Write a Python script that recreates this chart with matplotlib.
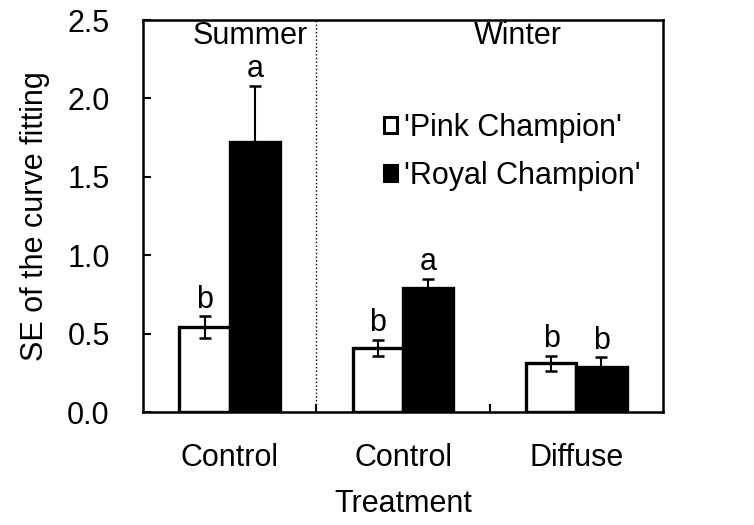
import matplotlib.pyplot as plt
import numpy as np
from matplotlib.patches import Patch

plt.rcParams['font.family'] = ['Liberation Sans', 'DejaVu Sans']

# data
GROUPS = ['Control', 'Control', 'Diffuse']
PINK = [0.54, 0.41, 0.31]
PINK_ERR = [0.07, 0.05, 0.05]
ROYAL = [1.72, 0.79, 0.29]
ROYAL_ERR = [0.36, 0.06, 0.06]
PINK_LETTERS = ['b', 'b', 'b']
ROYAL_LETTERS = ['a', 'a', 'b']

FS = 22

fig = plt.figure(figsize=(7.54, 5.25), dpi=100)
ax = fig.add_axes([143 / 754, 1 - 412 / 525, 520 / 754, 392 / 525])

x = np.arange(len(GROUPS))
w = 0.29

ax.bar(x - w / 2, PINK, w, color='white', edgecolor='black', linewidth=2.4, zorder=2)
ax.bar(x + w / 2, ROYAL, w, color='black', edgecolor='black', linewidth=2.4, zorder=2)
ax.errorbar(x - w / 2, PINK, yerr=PINK_ERR, fmt='none', ecolor='black',
            elinewidth=1.5, capsize=4.5, capthick=1.8, zorder=3)
ax.errorbar(x + w / 2, ROYAL, yerr=[[0] * 3, ROYAL_ERR], fmt='none', ecolor='black',
            elinewidth=1.5, capsize=4.5, capthick=1.8, zorder=1)

for i in range(len(GROUPS)):
    ax.text(x[i] - w / 2, PINK[i] + PINK_ERR[i] + 0.01, PINK_LETTERS[i],
            ha='center', va='bottom', fontsize=FS)
    ax.text(x[i] + w / 2, ROYAL[i] + ROYAL_ERR[i] + 0.01, ROYAL_LETTERS[i],
            ha='center', va='bottom', fontsize=FS)

ax.axvline(0.5, color='black', linestyle=':', linewidth=1)
ax.text(0.12, 2.40, 'Summer', ha='center', va='center', fontsize=FS)
ax.text(1.66, 2.40, 'Winter', ha='center', va='center', fontsize=FS)

ax.set_xlim(-0.5, 2.5)
ax.set_ylim(0, 2.5)
ax.set_yticks(np.arange(0, 2.51, 0.5))
ax.set_yticklabels([f'{v:.1f}' for v in np.arange(0, 2.51, 0.5)])
ax.set_xticks(x)
ax.set_xticklabels(GROUPS)
ax.set_xticks([0.5, 1.5], minor=True)
ax.tick_params(axis='x', which='major', length=0, pad=22, labelsize=FS)
ax.tick_params(axis='x', which='minor', direction='in', length=6, width=1.5)
ax.tick_params(axis='y', direction='in', length=6, width=1.5, pad=24, labelsize=FS)
for s in ax.spines.values():
    s.set_linewidth(1.8)

ax.set_ylabel('SE of the curve fitting', fontsize=FS, labelpad=12)
ax.set_xlabel('Treatment', fontsize=FS, labelpad=12)

handles = [Patch(facecolor='white', edgecolor='black', linewidth=2.2),
           Patch(facecolor='black', edgecolor='black', linewidth=2.2)]
ax.legend(handles, ["'Pink Champion'", "'Royal Champion'"], loc='upper left',
          bbox_to_anchor=(0.44, 0.795), frameon=False, fontsize=FS,
          handlelength=0.42, handleheight=0.42, handletextpad=0.25,
          labelspacing=0.6, borderaxespad=0)

plt.savefig('out.png', dpi=100)
